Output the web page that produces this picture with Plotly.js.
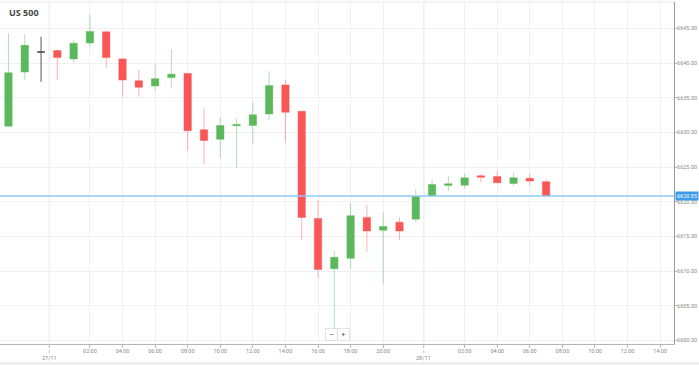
<!DOCTYPE html>
<html>
<head>
<meta charset="utf-8">
<script src="https://cdn.plot.ly/plotly-3.0.1.min.js"></script>
<style>html,body{margin:0;padding:0;background:#fff;}#chart{width:699px;height:365px;}</style>
</head>
<body>
<div id="chart"></div>
<script>
// Hourly candles, 26/11 20:00 → 28/11 07:00 (22:00 break hour absent)
const hours = ['20:00','21:00','23:00','00:00','01:00','02:00','03:00','04:00','05:00','06:00',
  '07:00','08:00','09:00','10:00','11:00','12:00','13:00','14:00','15:00','16:00',
  '17:00','18:00','19:00','20:00','21:00','23:00','00:00','01:00','02:00','03:00',
  '04:00','05:00','06:00','07:00'];
const open  = [6630.9,6638.7,6641.6,6641.8,6640.6,6642.9,6644.5,6640.6,6637.45,6636.7,
  6637.9,6638.5,6630.4,6629.0,6630.95,6631.0,6632.65,6636.85,6633.05,6617.6,
  6610.35,6611.85,6617.75,6615.9,6617.05,6617.5,6620.85,6622.35,6622.4,6623.75,
  6623.65,6622.65,6623.4,6622.9];
const high  = [6644.3,6644.1,6643.8,6641.9,6643.3,6647.0,6644.6,6640.7,6639.0,6639.8,
  6642.0,6638.6,6633.45,6632.2,6632.0,6634.35,6638.85,6637.55,6633.1,6620.25,
  6612.95,6619.8,6619.55,6618.5,6617.75,6621.8,6623.25,6623.75,6624.05,6624.05,
  6624.5,6624.2,6624.0,6623.25];
const low   = [6630.8,6637.55,6637.3,6637.55,6640.1,6642.45,6639.3,6635.15,6635.15,6636.0,
  6636.3,6627.35,6625.4,6626.35,6624.85,6628.35,6631.8,6628.55,6614.5,6609.0,
  6601.45,6610.3,6612.8,6608.1,6614.55,6617.05,6620.8,6621.55,6622.0,6622.8,
  6622.7,6622.3,6622.4,6620.85];
const close = [6638.6,6642.55,6641.6,6640.8,6642.85,6644.55,6640.8,6637.55,6636.5,6637.75,
  6638.4,6630.25,6628.85,6631.0,6631.15,6632.55,6636.75,6632.9,6617.75,6610.25,
  6612.0,6618.0,6615.8,6616.45,6615.8,6620.75,6622.5,6622.6,6623.45,6623.55,
  6622.75,6623.45,6623.0,6620.85];
const currentPrice = 6620.85;

// x-axis ticks (candle index positions) and labels
const tickPos  = [2.5,5,7,9,11,13,15,17,19,21,23,25.5,28,30,32,34,36,38,40];
const tickText = ['27/11','02:00','04:00','06:00','08:00','10:00','12:00','14:00','16:00','18:00','20:00',
  '28/11','02:00','04:00','06:00','08:00','10:00','12:00','14:00'];
const dateTicks = ['27/11','28/11'];

const idx = hours.map((_, i) => i);
const moveIdx = idx.filter(i => open[i] !== close[i]);
const flatIdx = idx.filter(i => open[i] === close[i]);
const pick = (arr, sel) => sel.map(i => arr[i]);

const GREEN = '#5cb85c', RED = '#f95656';
const traces = [
  {
    type: 'candlestick',
    x: moveIdx, open: pick(open, moveIdx), high: pick(high, moveIdx),
    low: pick(low, moveIdx), close: pick(close, moveIdx),
    increasing: {fillcolor: GREEN, line: {color: 'rgba(92,184,92,0.45)', width: 1}},
    decreasing: {fillcolor: RED, line: {color: 'rgba(249,86,86,0.45)', width: 1}},
    hoverinfo: 'none', showlegend: false
  },
  {
    type: 'candlestick',
    x: flatIdx, open: pick(open, flatIdx), high: pick(high, flatIdx),
    low: pick(low, flatIdx), close: pick(close, flatIdx),
    increasing: {fillcolor: '#555', line: {color: '#555', width: 1}},
    decreasing: {fillcolor: '#555', line: {color: '#555', width: 1}},
    hoverinfo: 'none', showlegend: false
  }
];

const ticktextFmt = tickText.map(t => dateTicks.includes(t) ? '' : t);
const dateAnns = tickText.map((t, i) => ({t, p: tickPos[i]})).filter(o => dateTicks.includes(o.t)).map(o => ({
  xref: 'x', yref: 'paper', x: o.p, y: -(358 - 344) / 342, xanchor: 'center', yanchor: 'middle',
  text: o.t, showarrow: false, font: {size: 5.5, color: '#8a8a8a', family: 'Roboto, "Open Sans", sans-serif'}
}));
const dateTickShapes = tickText.map((t, i) => ({t, p: tickPos[i]})).filter(o => dateTicks.includes(o.t)).flatMap(o => ([
  {type: 'line', xref: 'x', yref: 'paper', x0: o.p, x1: o.p, y0: 0, y1: 1, line: {color: '#e4e4e4', width: 1}, layer: 'below'},
  {type: 'line', xref: 'x', yref: 'paper', x0: o.p, x1: o.p, y0: 0, y1: -(353 - 344) / 342, line: {color: '#c8c8c8', width: 1, dash: 'dot'}}
]));

const layout = {
  width: 699, height: 365,
  margin: {l: 0, r: 25, t: 2, b: 21, pad: 0},
  paper_bgcolor: '#fff', plot_bgcolor: '#fff',
  font: {family: 'Roboto, "Open Sans", Arial, sans-serif', color: '#888', size: 5.5},
  title: {text: '<b>US 500</b>', x: 9/699, xanchor: 'left', y: 1 - 13/365, yanchor: 'middle',
          font: {family: '"Open Sans", Arial, sans-serif', size: 9, color: '#444'}},
  boxgap: 0.35,
  showlegend: false,
  xaxis: {
    range: [-0.52, 40.85], tickvals: tickPos, ticktext: ticktextFmt,
    showgrid: true, gridcolor: '#f0f0f0', gridwidth: 1,
    ticks: 'outside', ticklen: 3, tickcolor: '#bbb', tickangle: 0,
    ticklabelstandoff: -2,
    showline: true, linecolor: '#b5b5b5', linewidth: 1,
    zeroline: false, rangeslider: {visible: false}, fixedrange: true,
    tickfont: {size: 5.5, color: '#8a8a8a'}
  },
  yaxis: {
    side: 'right', range: [6599.5, 6648.8], tick0: 6600, dtick: 5, tickformat: '.2f',
    showgrid: true, gridcolor: '#f0f0f0', gridwidth: 1,
    ticks: 'outside', ticklen: 2, tickcolor: '#bbb',
    ticklabelstandoff: -1,
    showline: true, linecolor: '#9a9a9a', linewidth: 1,
    zeroline: false, fixedrange: true,
    tickfont: {size: 5.5, color: '#8a8a8a'}
  },
  shapes: dateTickShapes.concat([
    {type: 'line', xref: 'paper', yref: 'paper', x0: 0, x1: 1, y0: 1, y1: 1, line: {color: '#e6e6e6', width: 1}},
    {type: 'line', xref: 'paper', yref: 'y', x0: 0, x1: 1, y0: currentPrice, y1: currentPrice, line: {color: '#8ccbf5', width: 1.5}},
    {type: 'rect', xref: 'paper', yref: 'paper', x0: 0, x1: 699/674, y0: -(366-344)/342, y1: -(362-344)/342, fillcolor: '#eeeeee', line: {width: 0}}
  ]),
  annotations: dateAnns.concat([
    {xref: 'paper', yref: 'y', x: 1, y: currentPrice, xanchor: 'left', yanchor: 'middle', xshift: 1,
     text: currentPrice.toFixed(2), showarrow: false, bgcolor: '#3d9be9', borderpad: 1,
     font: {size: 5.5, color: '#fff'}},
    {xref: 'paper', yref: 'paper', x: 331/674, y: (344-334)/342, xanchor: 'center', yanchor: 'middle',
     text: '−', showarrow: false, bgcolor: '#fff', bordercolor: '#e2e2e2', borderwidth: 1, width: 9, height: 9,
     font: {size: 8, color: '#555'}},
    {xref: 'paper', yref: 'paper', x: 343/674, y: (344-334)/342, xanchor: 'center', yanchor: 'middle',
     text: '+', showarrow: false, bgcolor: '#fff', bordercolor: '#e2e2e2', borderwidth: 1, width: 9, height: 9,
     font: {size: 8, color: '#555'}}
  ])
};

Plotly.newPlot('chart', traces, layout, {displayModeBar: false, staticPlot: true});
</script>
</body>
</html>
